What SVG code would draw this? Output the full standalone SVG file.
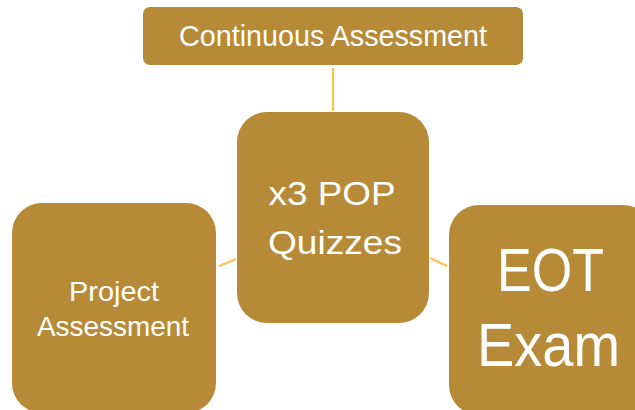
<svg xmlns="http://www.w3.org/2000/svg" width="635" height="410" viewBox="0 0 635 410">
  <style>
    .box { fill: #B68A36; }
    .lbl { fill: #FFFFFF; font-family: "Liberation Sans", Arial, sans-serif; text-anchor: middle; }
    .conn { stroke: #FFC04D; stroke-width: 2.2; fill: none; }
  </style>
  <rect width="635" height="410" fill="#FFFFFF"/>
  <g id="connectors">
    <line class="conn" x1="333" y1="68" x2="333" y2="111"/>
    <line class="conn" x1="219" y1="266" x2="236" y2="259"/>
    <line class="conn" x1="430" y1="258" x2="447" y2="266"/>
  </g>
  <g id="node-continuous">
    <rect class="box" x="143" y="7" width="380" height="58" rx="7"/>
    <text class="lbl" x="333" y="46" font-size="29" textLength="308" lengthAdjust="spacingAndGlyphs">Continuous Assessment</text>
  </g>
  <g id="node-quizzes">
    <rect class="box" x="237" y="112" width="192" height="211" rx="30"/>
    <text class="lbl" x="332" y="205" font-size="32.5" textLength="127" lengthAdjust="spacingAndGlyphs">x3 POP</text>
    <text class="lbl" x="335" y="254" font-size="32.5" textLength="134" lengthAdjust="spacingAndGlyphs">Quizzes</text>
  </g>
  <g id="node-project">
    <rect class="box" x="12" y="203" width="204" height="210" rx="30"/>
    <text class="lbl" x="114" y="301" font-size="28" textLength="90" lengthAdjust="spacingAndGlyphs">Project</text>
    <text class="lbl" x="113" y="336" font-size="28" textLength="152" lengthAdjust="spacingAndGlyphs">Assessment</text>
  </g>
  <g id="node-eot">
    <rect class="box" x="449" y="205" width="204" height="210" rx="30"/>
    <text class="lbl" x="550.5" y="291" font-size="61" textLength="107" lengthAdjust="spacingAndGlyphs">EOT</text>
    <text class="lbl" x="548.5" y="366" font-size="61" textLength="143" lengthAdjust="spacingAndGlyphs">Exam</text>
  </g>
</svg>
